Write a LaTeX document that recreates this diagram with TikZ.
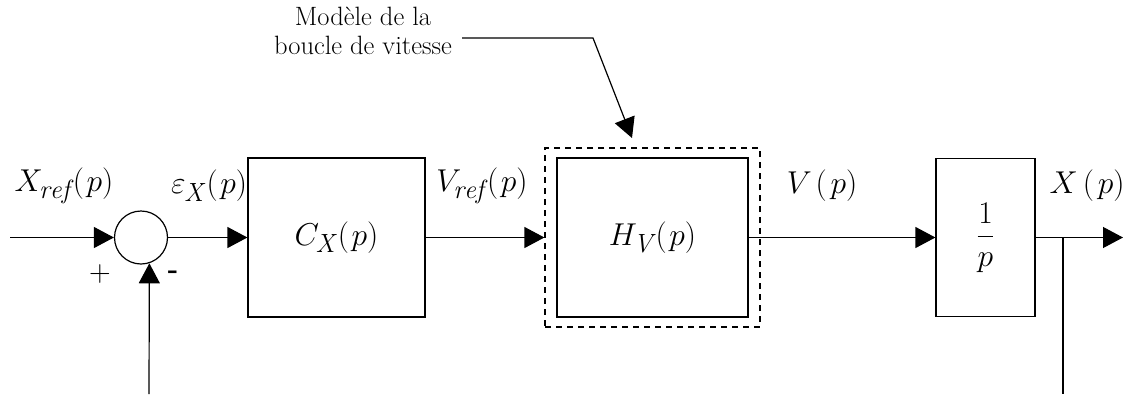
\documentclass[tikz,border=0pt]{standalone}
\usepackage{graphicx}
\usepackage{fontspec}
\usetikzlibrary{arrows.meta}
\newcommand{\sig}[3]{\scalebox{1.27}{$#1_{\kern-1pt\mathit{#2}}\kern2pt(\kern2pt#3)$}}
\newcommand{\enlbl}[1]{\scalebox{1.27}{#1}}
\tikzset{
  blk/.style={draw, line width=1.2pt, rectangle, inner sep=0pt},
  wire/.style={line width=1.2pt},
  arr/.style={line width=1.2pt, -{Triangle[length=20pt,width=21pt]}},
  lbl/.style={font=\Huge, inner sep=0pt},
}
\begin{document}
\begin{tikzpicture}[x=1pt,y=-1pt]
\useasboundingbox (0,0) rectangle (1133,394);
% blocks
\node[circle, draw, line width=1.2pt, minimum size=53pt, inner sep=0pt] (sum) at (141,237.5) {};
\node[blk, minimum width=177pt, minimum height=159pt, lbl] (cx) at (336.5,237.5) {\sig{C}{X}{p}};
\node[blk, minimum width=191pt, minimum height=159pt, lbl] (hv) at (652.5,237.5) {\sig{H}{V}{p}};
\node[draw, dashed, line width=1.2pt, dash pattern=on 6pt off 5pt, minimum width=215pt, minimum height=179pt, inner sep=0pt] (dash) at (652.5,237.5) {};
\node[blk, minimum width=99pt, minimum height=158pt, lbl] (int) at (985.5,237.5) {\enlbl{$\displaystyle\frac{1}{p}$}};
% coordinates
\coordinate (in) at (10,237.5);
\coordinate (fb) at (149,394);
\coordinate (br) at (1063,237.5);
\coordinate (brd) at (1063,394);
\coordinate (out) at (1123,237.5);
% connectors
\draw[arr] (in) -- (sum.west);
\draw[arr] (fb) -- (sum.-72);
\draw[arr] (sum.east) -- (cx.west);
\draw[arr] (cx.east) -- (dash.west);
\draw[arr] (hv.east) -- (int.west);
\draw[arr] (int.east) -- (out);
\draw[wire] (br) -- (brd);
% signal labels
\node[lbl] (lxref) at (64,186) {\sig{X}{ref}{p}};
\node[lbl] (leps) at (209,186) {\sig{\varepsilon}{X}{p}};
\node[lbl] (lvref) at (482,186) {\sig{V}{ref}{p}};
\node[lbl] (lv) at (822,186) {\enlbl{$V\kern3pt(\kern3pt p)$}};
\node[lbl] (lx) at (1087,186) {\enlbl{$X\kern4pt(\kern3pt p)$}};
\node[font=\fontsize{30}{32}\selectfont, inner sep=0pt] (plus) at (100,274) {+};
\node[font=\fontsize{28}{28}\selectfont\bfseries, inner sep=0pt] (minus) at (173,275) {-};
% annotation
\node[font=\fontsize{26.5}{29}\selectfont, align=center, inner sep=0pt] (txt) at (363,31) {Modèle de la\\boucle de vitesse};
\coordinate (p1) at (593,38);
\coordinate (p2) at (632,138);
\draw[arr] (462,38) -- (p1) -- (p2);
\end{tikzpicture}
\end{document}
